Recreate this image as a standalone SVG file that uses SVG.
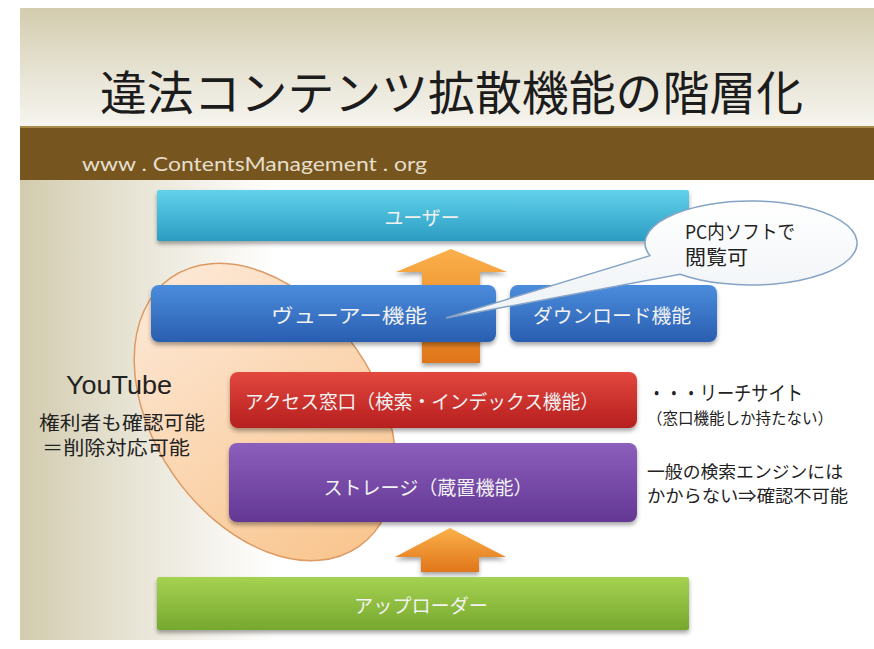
<svg xmlns="http://www.w3.org/2000/svg" width="874" height="649" viewBox="0 0 874 649">
<defs>
<linearGradient id="gHead" x1="0" y1="0" x2="0" y2="1">
<stop offset="0" stop-color="#d3ccae"/><stop offset="0.6" stop-color="#e9e6d8"/><stop offset="1" stop-color="#f6f5ef"/>
</linearGradient>
<linearGradient id="gLeft" x1="0" y1="0" x2="1" y2="0">
<stop offset="0" stop-color="#d2cbae"/><stop offset="0.12" stop-color="#e6e2d2"/><stop offset="0.3" stop-color="#ffffff"/><stop offset="1" stop-color="#ffffff"/>
</linearGradient>
<linearGradient id="gCyan" x1="0" y1="0" x2="0" y2="1"><stop offset="0" stop-color="#62d2ec"/><stop offset="1" stop-color="#2b9cc2"/></linearGradient>
<linearGradient id="gBlue" x1="0" y1="0" x2="0" y2="1"><stop offset="0" stop-color="#4b8cdc"/><stop offset="1" stop-color="#2a5eb0"/></linearGradient>
<linearGradient id="gRed" x1="0" y1="0" x2="0" y2="1"><stop offset="0" stop-color="#e2473e"/><stop offset="1" stop-color="#b61f1f"/></linearGradient>
<linearGradient id="gPurple" x1="0" y1="0" x2="0" y2="1"><stop offset="0" stop-color="#8c5fbc"/><stop offset="1" stop-color="#633794"/></linearGradient>
<linearGradient id="gGreen" x1="0" y1="0" x2="0" y2="1"><stop offset="0" stop-color="#a6d252"/><stop offset="1" stop-color="#76a82e"/></linearGradient>
<linearGradient id="gOrange" x1="0" y1="0" x2="0" y2="1"><stop offset="0" stop-color="#fbb04a"/><stop offset="1" stop-color="#e0761a"/></linearGradient>
<linearGradient id="gPeach" x1="0" y1="0" x2="0" y2="1"><stop offset="0" stop-color="#fde7d4"/><stop offset="1" stop-color="#f9c690"/></linearGradient>
<linearGradient id="gCallout" x1="0" y1="0" x2="0" y2="1"><stop offset="0" stop-color="#ffffff"/><stop offset="1" stop-color="#eef2f6"/></linearGradient>
<filter id="sh" x="-10%" y="-20%" width="120%" height="150%"><feDropShadow dx="0" dy="3" stdDeviation="2" flood-color="#000" flood-opacity="0.35"/></filter>
</defs>
<style>
.jp{font-family:"Noto Sans CJK JP","Noto Sans",sans-serif;}
.box{font-family:"Noto Sans CJK JP",sans-serif;font-size:19px;fill:#f2f2f2;text-anchor:middle;dominant-baseline:central;}
.note{font-family:"Noto Sans CJK JP",sans-serif;fill:#222;dominant-baseline:central;}
</style>
<rect width="874" height="649" fill="#ffffff"/>
<rect x="20" y="8" width="854" height="120" fill="url(#gHead)"/>
<rect x="20" y="180" width="854" height="460" fill="url(#gLeft)"/>
<rect x="20" y="127" width="854" height="53" fill="#76561e"/>
<rect x="20" y="126" width="854" height="2" fill="#a88a4c"/>
<text x="100" y="89" class="jp" font-size="47" fill="#1c1c1c" dominant-baseline="central" textLength="703" lengthAdjust="spacingAndGlyphs">違法コンテンツ拡散機能の階層化</text>
<text x="82" y="163" font-family="Lato, 'Open Sans', sans-serif" font-size="19" fill="#e6decc" dominant-baseline="central" textLength="345" lengthAdjust="spacingAndGlyphs">www . ContentsManagement . org</text>

<g id="youtube-area">
<ellipse cx="265" cy="412" rx="111" ry="164" transform="rotate(-35 265 412)" fill="url(#gPeach)" stroke="#dd9a62" stroke-width="1.5"/>
</g>

<g id="connectors">
<polygon points="451,249 507,272 480,272 480,363 422,363 422,272 396,272" fill="url(#gOrange)" filter="url(#sh)"/>
<polygon points="450,528 506,557 479,557 479,572 421,572 421,557 395,557" fill="url(#gOrange)" filter="url(#sh)"/>
</g>

<g id="user">
<rect x="157" y="190" width="532" height="51" rx="2" fill="url(#gCyan)" filter="url(#sh)"/>
<text x="422" y="216" class="box" textLength="75" lengthAdjust="spacingAndGlyphs">ユーザー</text>
</g>
<g id="viewer">
<rect x="151" y="285" width="345" height="57" rx="8" fill="url(#gBlue)" filter="url(#sh)"/>
<text x="349" y="314" class="box" textLength="156" lengthAdjust="spacingAndGlyphs">ヴューアー機能</text>
</g>
<g id="download">
<rect x="510" y="285" width="207" height="57" rx="8" fill="url(#gBlue)" filter="url(#sh)"/>
<text x="612" y="314" class="box" textLength="158" lengthAdjust="spacingAndGlyphs">ダウンロード機能</text>
</g>
<g id="access">
<rect x="230" y="372" width="407" height="56" rx="8" fill="url(#gRed)" filter="url(#sh)"/>
<text x="422" y="400" class="box" textLength="354" lengthAdjust="spacingAndGlyphs">アクセス窓口（検索・インデックス機能）</text>
</g>
<g id="storage">
<rect x="229" y="443" width="408" height="79" rx="8" fill="url(#gPurple)" filter="url(#sh)"/>
<text x="428" y="486" class="box" textLength="209" lengthAdjust="spacingAndGlyphs">ストレージ（蔵置機能）</text>
</g>
<g id="uploader">
<rect x="157" y="577" width="532" height="53" rx="2" fill="url(#gGreen)" filter="url(#sh)"/>
<text x="421" y="604" class="box" textLength="134" lengthAdjust="spacingAndGlyphs">アップローダー</text>
</g>

<g id="callout">
<path d="M446 318 L650 255.7 A106 42 0 1 1 680 274.2 Z" fill="url(#gCallout)" stroke="#86a4c6" stroke-width="1.5"/>
<text x="685" y="230" class="note" font-size="19" fill="#333" textLength="110" lengthAdjust="spacingAndGlyphs">PC内ソフトで</text>
<text x="685" y="256" class="note" font-size="20" fill="#333" textLength="63" lengthAdjust="spacingAndGlyphs">閲覧可</text>
</g>

<g id="youtube-label">
<text x="66" y="385" font-family="'Liberation Sans', Arial, sans-serif" font-size="26" fill="#222" dominant-baseline="central" textLength="106" lengthAdjust="spacingAndGlyphs">YouTube</text>
<text x="39" y="421" class="note" font-size="19" textLength="166" lengthAdjust="spacingAndGlyphs">権利者も確認可能</text>
<text x="42" y="446" class="note" font-size="19" textLength="148" lengthAdjust="spacingAndGlyphs">＝削除対応可能</text>
</g>

<g id="reach-note">
<text x="648" y="392" class="note" font-size="20" textLength="155" lengthAdjust="spacingAndGlyphs">・・・リーチサイト</text>
<text x="647" y="417" class="note" font-size="15.5" textLength="186" lengthAdjust="spacingAndGlyphs">（窓口機能しか持たない）</text>
</g>
<g id="storage-note">
<text x="647" y="470" class="note" font-size="17" textLength="196" lengthAdjust="spacingAndGlyphs">一般の検索エンジンには</text>
<text x="647" y="494" class="note" font-size="17" textLength="201" lengthAdjust="spacingAndGlyphs">かからない⇒確認不可能</text>
</g>
</svg>
